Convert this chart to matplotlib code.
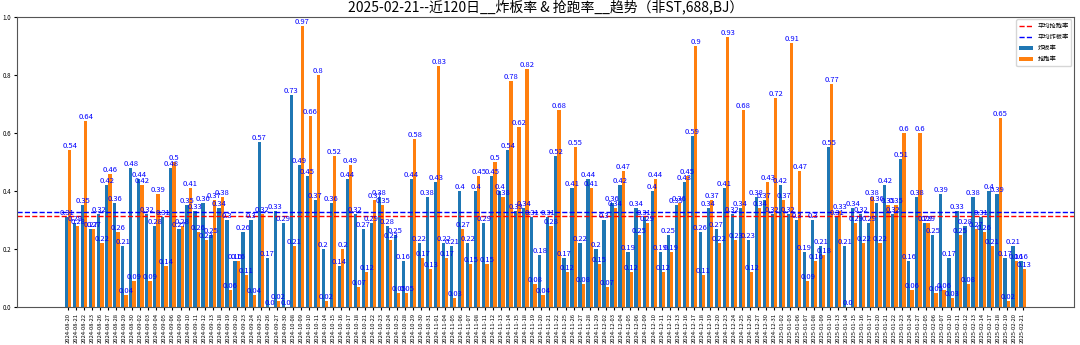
import matplotlib
matplotlib.use("Agg")
import matplotlib.pyplot as plt
import numpy as np

plt.rcParams['font.family'] = ['Noto Sans CJK SC', 'DejaVu Sans']
plt.rcParams['axes.unicode_minus'] = False

dates = [
    "2024-08-20", "2024-08-21", "2024-08-22", "2024-08-23", "2024-08-26", "2024-08-27",
    "2024-08-28", "2024-08-29", "2024-08-30", "2024-09-02", "2024-09-03", "2024-09-04",
    "2024-09-05", "2024-09-06", "2024-09-09", "2024-09-10", "2024-09-11", "2024-09-12",
    "2024-09-13", "2024-09-18", "2024-09-19", "2024-09-20", "2024-09-23", "2024-09-24",
    "2024-09-25", "2024-09-26", "2024-09-27", "2024-09-30", "2024-10-08", "2024-10-09",
    "2024-10-10", "2024-10-11", "2024-10-14", "2024-10-15", "2024-10-16", "2024-10-17",
    "2024-10-18", "2024-10-21", "2024-10-22", "2024-10-23", "2024-10-24", "2024-10-25",
    "2024-10-28", "2024-10-29", "2024-10-30", "2024-10-31", "2024-11-01", "2024-11-04",
    "2024-11-05", "2024-11-06", "2024-11-07", "2024-11-08", "2024-11-11", "2024-11-12",
    "2024-11-13", "2024-11-14", "2024-11-15", "2024-11-18", "2024-11-19", "2024-11-20",
    "2024-11-21", "2024-11-22", "2024-11-25", "2024-11-26", "2024-11-27", "2024-11-28",
    "2024-11-29", "2024-12-02", "2024-12-03", "2024-12-04", "2024-12-05", "2024-12-06",
    "2024-12-09", "2024-12-10", "2024-12-11", "2024-12-12", "2024-12-13", "2024-12-16",
    "2024-12-17", "2024-12-18", "2024-12-19", "2024-12-20", "2024-12-23", "2024-12-24",
    "2024-12-25", "2024-12-26", "2024-12-27", "2024-12-30", "2024-12-31", "2025-01-02",
    "2025-01-03", "2025-01-06", "2025-01-07", "2025-01-08", "2025-01-09", "2025-01-10",
    "2025-01-13", "2025-01-14", "2025-01-15", "2025-01-16", "2025-01-17", "2025-01-20",
    "2025-01-21", "2025-01-22", "2025-01-23", "2025-01-24", "2025-01-27", "2025-02-05",
    "2025-02-06", "2025-02-07", "2025-02-10", "2025-02-11", "2025-02-12", "2025-02-13",
    "2025-02-14", "2025-02-17", "2025-02-18", "2025-02-19", "2025-02-20", "2025-02-21",
]

# 炸板率
zhaban = [
    0.31, 0.29, 0.35, 0.27, 0.32, 0.42, 0.36, 0.21, 0.48, 0.44, 0.32, 0.28,
    0.31, 0.48, 0.27, 0.35, 0.33, 0.36, 0.25, 0.34, 0.30, 0.16, 0.26, 0.30,
    0.57, 0.17, 0.33, 0.29, 0.73, 0.49, 0.45, 0.37, 0.20, 0.36, 0.14, 0.44,
    0.32, 0.27, 0.29, 0.38, 0.28, 0.25, 0.16, 0.44, 0.22, 0.38, 0.43, 0.22,
    0.21, 0.40, 0.22, 0.40, 0.29, 0.45, 0.40, 0.54, 0.33, 0.34, 0.31, 0.18,
    0.31, 0.52, 0.17, 0.41, 0.22, 0.44, 0.20, 0.30, 0.36, 0.42, 0.19, 0.34,
    0.31, 0.40, 0.19, 0.25, 0.35, 0.43, 0.59, 0.26, 0.34, 0.27, 0.41, 0.32,
    0.34, 0.23, 0.38, 0.37, 0.32, 0.42, 0.32, 0.30, 0.19, 0.30, 0.21, 0.55,
    0.31, 0.21, 0.34, 0.32, 0.29, 0.36, 0.42, 0.32, 0.51, 0.16, 0.38, 0.29,
    0.25, 0.39, 0.17, 0.33, 0.28, 0.38, 0.31, 0.40, 0.39, 0.17, 0.21, 0.16,
]

# 抢跑率
qiangpao = [
    0.54, 0.28, 0.64, 0.27, 0.22, 0.46, 0.26, 0.04, 0.09, 0.42, 0.09, 0.39,
    0.14, 0.50, 0.28, 0.41, 0.26, 0.23, 0.37, 0.38, 0.06, 0.16, 0.11, 0.04,
    0.32, 0.0, 0.02, 0.0, 0.21, 0.97, 0.66, 0.80, 0.02, 0.52, 0.20, 0.49,
    0.07, 0.12, 0.37, 0.35, 0.23, 0.05, 0.05, 0.58, 0.17, 0.13, 0.83, 0.17,
    0.03, 0.27, 0.15, 0.45, 0.15, 0.50, 0.38, 0.78, 0.62, 0.82, 0.08, 0.04,
    0.28, 0.68, 0.12, 0.55, 0.08, 0.41, 0.15, 0.07, 0.34, 0.47, 0.12, 0.25,
    0.29, 0.44, 0.12, 0.19, 0.36, 0.45, 0.90, 0.11, 0.37, 0.22, 0.93, 0.23,
    0.68, 0.12, 0.34, 0.43, 0.72, 0.37, 0.91, 0.47, 0.09, 0.16, 0.18, 0.77,
    0.33, 0.0, 0.29, 0.22, 0.38, 0.22, 0.35, 0.35, 0.60, 0.06, 0.60, 0.29,
    0.05, 0.06, 0.03, 0.25, 0.08, 0.27, 0.26, 0.21, 0.65, 0.02, 0.16, 0.13,
]

avg_qiangpao = 0.313
avg_zhaban = 0.328

title = "2025-02-21--近120日__炸板率 & 抢跑率__趋势（非ST,688,BJ）"

fig = plt.figure(figsize=(10.8, 3.45), dpi=100)
ax = fig.add_axes([0.0157, 0.110, 0.9787, 0.841])

x = np.arange(len(dates))
w = 0.4
ax.axhline(avg_qiangpao, color='red', linestyle='--', linewidth=1, label='平均抢跑率')
ax.axhline(avg_zhaban, color='blue', linestyle='--', linewidth=1, label='平均炸板率')
ax.bar(x - w / 2, zhaban, width=w, color='#1f77b4', label='炸板率')
ax.bar(x + w / 2, qiangpao, width=w, color='#ff7f0e', label='抢跑率')

for xi, v in zip(x, zhaban):
    ax.text(xi - w / 2, v, str(v), ha='center', va='bottom', color='blue', fontsize=5.5)
for xi, v in zip(x, qiangpao):
    ax.text(xi + w / 2, v, str(v), ha='center', va='bottom', color='blue', fontsize=5.5)

for s in ax.spines.values():
    s.set_color('#555555')
    s.set_linewidth(0.8)

ax.set_ylim(0, 1.0)
ax.set_xticks(x)
ax.set_xticklabels(dates, rotation=90, fontsize=4.2)
ax.tick_params(axis='y', labelsize=4.5, pad=1.5, length=2.5)
ax.tick_params(axis='x', pad=2, length=2.5)
ax.set_title(title, fontsize=10, pad=4)
ax.legend(loc='upper right', fontsize=4.5, handlelength=2.2, borderaxespad=0.4)

fig.savefig("out.png", dpi=100)
